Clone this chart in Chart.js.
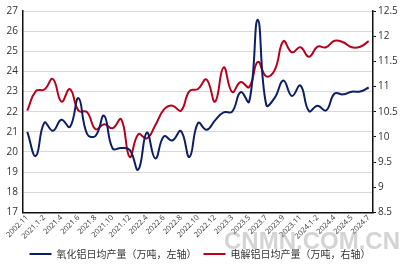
<!DOCTYPE html>
<html>
<head>
<meta charset="utf-8">
<script src="https://cdn.jsdelivr.net/npm/chart.js@4"></script>
<style>
  html, body { margin: 0; padding: 0; background: #fff; }
  #wrap { width: 400px; height: 269px; }
</style>
</head>
<body>
<div id="wrap"><canvas id="chart" width="400" height="269"></canvas></div>
<script>
const months = [
    '2002.11', '2020.12', '2021.1-2', '2021.3', '2021.4', '2021.5', '2021.6', '2021.7',
    '2021.8', '2021.9', '2021.10', '2021.11', '2021.12', '2022.3', '2022.4', '2022.5',
    '2022.6', '2022.7', '2022.8', '2022.9', '2022.10', '2022.11', '2022.12', '2023.1-2',
    '2023.3', '2023.4', '2023.5', '2023.6', '2023.7', '2023.8', '2023.9', '2023.10',
    '2023.11', '2023.12', '2024.1-2', '2024.3', '2024.4', '2024.4', '2024.5', '2024.6',
    '2024.7'
];

// 氧化铝日均产量（万吨，左轴）
const aluminaDaily = [
    21.0, 19.8, 21.45, 21.05, 21.6, 21.25, 22.67, 20.9,
    20.8, 21.8, 20.17, 20.2, 20.1, 19.12, 20.96, 19.67,
    20.77, 20.57, 21.04, 19.75, 21.44, 21.1, 21.57, 21.97,
    22.0, 22.97, 22.5, 26.57, 22.33, 22.7, 23.55, 22.78,
    23.3, 22.03, 22.3, 22.06, 22.9, 22.86, 22.99, 23.0,
    23.2
];

// 电解铝日均产量（万吨，右轴）
const electrolyticDaily = [
    10.52, 10.91, 10.94, 11.15, 10.7, 10.95, 10.52, 10.49,
    10.15, 10.25, 10.17, 10.35, 9.6, 10.05, 9.97, 10.23,
    10.54, 10.62, 10.52, 10.91, 10.95, 11.14, 10.7, 11.38,
    10.89, 11.09, 10.99, 11.49, 11.2, 11.33, 11.9, 11.68,
    11.78, 11.59, 11.79, 11.78, 11.91, 11.88, 11.78, 11.79,
    11.9
];

const leftTicks = [17, 18, 19, 20, 21, 22, 23, 24, 25, 26, 27];
const rightTicks = [8.5, 9, 9.5, 10, 10.5, 11, 11.5, 12, 12.5];

const numFont = { family: '"Open Sans", "Liberation Sans", sans-serif', size: 10 };
const cjkFont = { family: '"Noto Sans CJK SC", sans-serif', size: 10 };

// light watermark like the source image
const watermark = {
    id: 'watermark',
    afterDraw(c) {
        const ctx = c.ctx;
        ctx.save();
        ctx.font = 'bold 24px "Liberation Sans", sans-serif';
        ctx.fillStyle = 'rgba(170,170,170,0.5)';
        ctx.textBaseline = 'alphabetic';
        ctx.fillText('CNMN.COM.CN', 224, 249);
        ctx.restore();
    }
};

const ctx = document.getElementById('chart').getContext('2d');
const chart = new Chart(ctx, {
    type: 'line',
    data: {
        labels: months,
        datasets: [{
            label: '氧化铝日均产量（万吨，左轴）',
            data: aluminaDaily,
            borderColor: '#0d1f63',
            backgroundColor: '#0d1f63',
            borderWidth: 2,
            pointRadius: 0,
            tension: 0.45,
            yAxisID: 'y'
        }, {
            label: '电解铝日均产量（万吨，右轴）',
            data: electrolyticDaily,
            borderColor: '#b8001c',
            backgroundColor: '#b8001c',
            borderWidth: 2,
            pointRadius: 0,
            tension: 0.45,
            yAxisID: 'y1'
        }]
    },
    options: {
        responsive: false,
        animation: false,
        devicePixelRatio: 1,
        layout: { padding: { top: 2, right: 0, left: 0, bottom: 0 } },
        plugins: {
            legend: {
                position: 'bottom',
                labels: {
                    font: cjkFont,
                    color: '#333',
                    boxWidth: 22,
                    boxHeight: 2,
                    padding: 7,
                    generateLabels: c => Chart.defaults.plugins.legend.labels.generateLabels(c)
                        .map(l => ({ ...l, lineWidth: 0 }))
                }
            },
            tooltip: { enabled: false }
        },
        scales: {
            x: {
                offset: true,
                grid: { display: false, drawTicks: false },
                border: { color: '#111', width: 1.5 },
                ticks: {
                    color: '#333',
                    font: { family: numFont.family, size: 7.5 },
                    maxRotation: 45,
                    minRotation: 45,
                    autoSkip: false,
                    padding: 1,
                    callback: (val, i) => (i % 2 === 0 ? months[i] : null)
                }
            },
            y: {
                position: 'left',
                min: 17,
                max: 27,
                afterBuildTicks: s => { s.ticks = leftTicks.map(v => ({ value: v })); },
                afterFit: s => { s.width = 23; },
                grid: { color: '#d9d9d9', drawTicks: false },
                border: { color: '#111', width: 1.5 },
                ticks: { color: '#333', font: numFont, padding: 5 }
            },
            y1: {
                position: 'right',
                min: 8.5,
                max: 12.5,
                afterBuildTicks: s => { s.ticks = rightTicks.map(v => ({ value: v })); },
                afterFit: s => { s.width = 27; },
                grid: { drawOnChartArea: false, color: '#111', tickLength: 3 },
                border: { color: '#111', width: 1.5 },
                ticks: {
                    color: '#333',
                    font: numFont,
                    padding: 2,
                    callback: v => String(v)
                }
            }
        }
    },
    plugins: [watermark]
});
</script>
</body>
</html>
